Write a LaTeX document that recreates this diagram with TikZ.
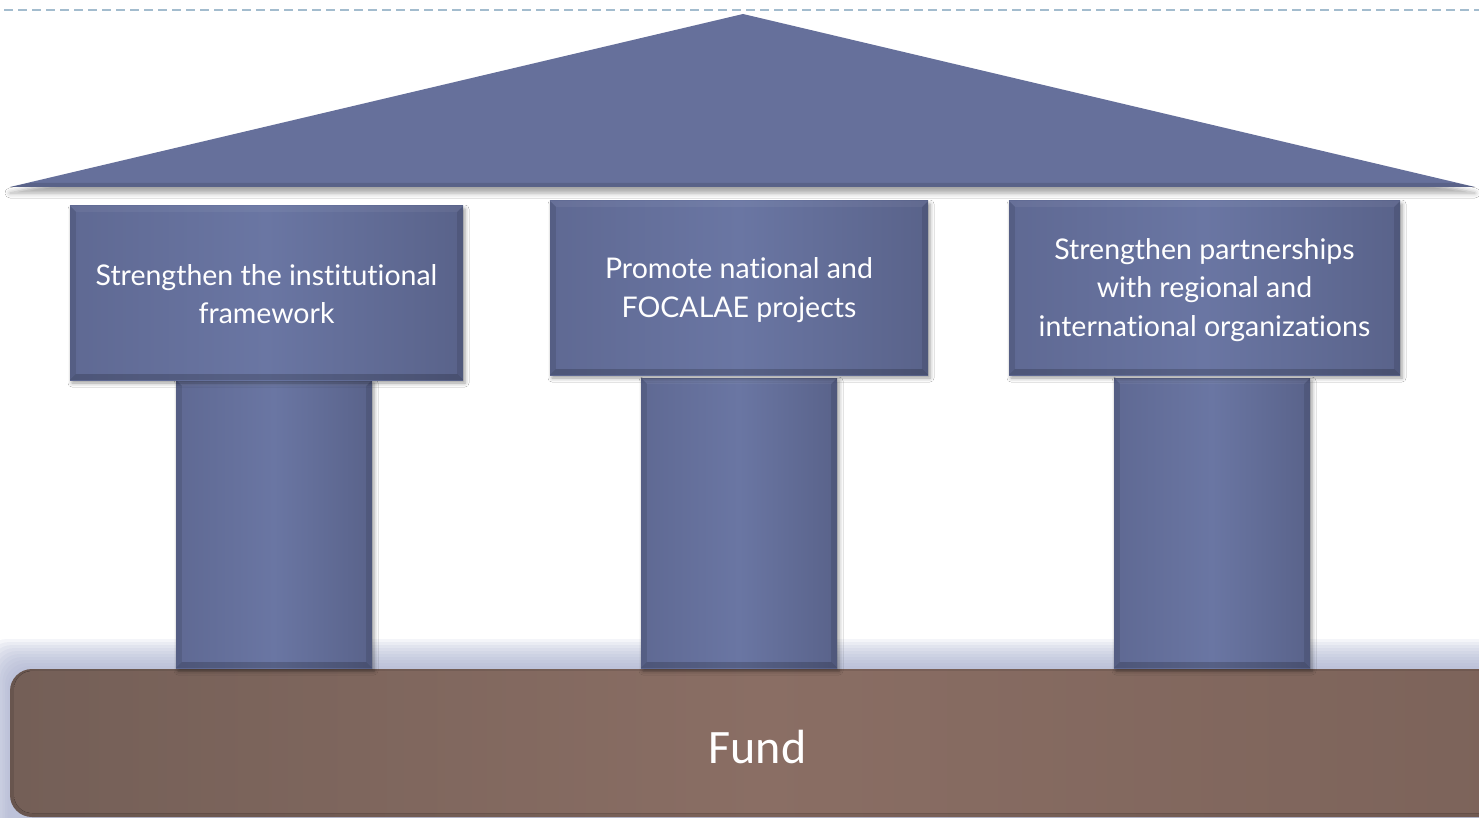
\documentclass[tikz,border=0pt]{standalone}
\usepackage{fontspec}
\setmainfont{Lato}[Ligatures=NoCommon]
\newfontfamily\fundfont{Carlito}
\usetikzlibrary{shadows.blur,calc}
\definecolor{roofc}{HTML}{66709B}
\definecolor{pillarmid}{HTML}{6A76A3}
\definecolor{pillaredge}{HTML}{5F6993}
\definecolor{basemid}{HTML}{8A6E64}
\definecolor{baseleft}{HTML}{745F57}
\definecolor{baseright}{HTML}{7C635A}
\definecolor{dashc}{HTML}{A3BCCE}
\definecolor{glowc}{HTML}{A8AECF}
\tikzset{
  pillar/.style={rectangle, inner sep=0pt, left color=pillaredge, right color=pillaredge!94!black, middle color=pillarmid,
    blur shadow={shadow xshift=2pt, shadow yshift=-3pt, shadow blur radius=4pt, shadow opacity=40}},
  boxtext/.style={text=white, font=\fontsize{28.5}{38.5}\selectfont, align=center},
  glowlayer/.style={fill=glowc, opacity=0.12, rounded corners=22pt},
}
\newcommand\bevelbox[2][6]{%
  \fill[black,opacity=0.10] (#2.north west) -- ($(#2.north west)+(#1,#1)$) -- ($(#2.south west)+(#1,-#1)$) -- (#2.south west) -- cycle;
  \fill[black,opacity=0.18] (#2.south west) -- ($(#2.south west)+(#1,-#1)$) -- ($(#2.south east)+(-#1,-#1)$) -- (#2.south east) -- cycle;
  \fill[black,opacity=0.10] (#2.north east) -- ($(#2.north east)+(-#1,#1)$) -- ($(#2.south east)+(-#1,-#1)$) -- (#2.south east) -- cycle;
  \fill[white,opacity=0.05] (#2.north west) -- ($(#2.north west)+(#1,#1)$) -- ($(#2.north east)+(-#1,#1)$) -- (#2.north east) -- cycle;
}
\begin{document}
\begin{tikzpicture}[x=1pt,y=-1pt]
\useasboundingbox (0,0) rectangle (1479,818);
\clip (0,0) rectangle (1479,818);
\fill[white] (0,0) rectangle (1479,818);
% dashed top line
\draw[dashc, line width=1.5pt, dash pattern=on 9pt off 5pt] (4,10) -- (1479,10);
% roof
\fill[roofc, blur shadow={shadow xshift=0pt, shadow yshift=-6pt, shadow blur radius=5pt, shadow opacity=35}] (10,187) -- (743,14) -- (1475,187) -- cycle;
\fill[black, opacity=0.12] (10,187) -- (30,183) -- (1455,183) -- (1475,187) -- cycle;
% glow above base
\foreach \i in {1,...,10}{
  \fill[glowlayer] ({10-2.5*\i},{669-3*\i}) rectangle (1540,840);
}
% base
\node[rectangle, rounded corners=22pt, minimum width=1500pt, minimum height=148pt, inner sep=0pt,
  left color=baseleft, right color=baseright, middle color=basemid] (base) at (760,743) {};
\fill[black, opacity=0.10, rounded corners=22pt] (10,669) rectangle (1510,817);
\fill[rounded corners=18pt, left color=baseleft, right color=baseright, middle color=basemid] (14,671) rectangle (1506,813);
\node[text=white, font=\fundfont\fontsize{48}{48}\selectfont] (fund) at (757.5,747) {Fund};
% columns
\node[pillar, minimum width=196pt, minimum height=288pt] (c1) at (274,524) {};
\node[pillar, minimum width=196pt, minimum height=290pt] (c2) at (739,523) {};
\node[pillar, minimum width=196pt, minimum height=290pt] (c3) at (1212,523) {};
\bevelbox{c1}\bevelbox{c2}\bevelbox{c3}
% capital boxes
\node[pillar, minimum width=393pt, minimum height=174pt] (b1) at (266.5,293) {};
\node[pillar, minimum width=378pt, minimum height=174pt] (b2) at (739,288) {};
\node[pillar, minimum width=391pt, minimum height=174pt] (b3) at (1204.5,288) {};
\bevelbox{b1}\bevelbox{b2}\bevelbox{b3}
\node[boxtext] (t1) at (266.5,294) {Strengthen the institutional\\framework};
\node[boxtext] (t2) at (739,290) {Promote national and\\FOCALAE projects};
\node[boxtext] (t3) at (1204.5,290) {Strengthen partnerships\\with regional and\\international organizations};
\end{tikzpicture}
\end{document}
